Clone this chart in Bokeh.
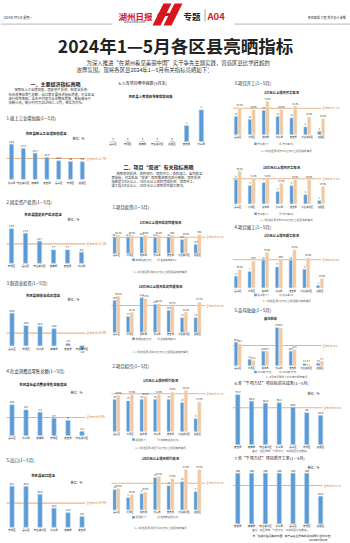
from bokeh.plotting import figure
from bokeh.layouts import column, row
from bokeh.models import Range1d, ColumnDataSource
from bokeh.transform import dodge
from bokeh.core.properties import value
from bokeh.embed import file_html
from bokeh.resources import INLINE

FONT = "Noto Sans CJK SC"
BLUE = "#5b9bd5"
BLUE_EDGE = "#a7c9ea"
TAN = "#f0c9a3"
AVG = "#e9b48a"
AVG_TXT = "#d27a36"
INK = "#222222"
GREY = "#555555"
RED = "#d7191f"

# ---------------- data ----------------
# 一、主要经济指标
ind_cats = ["长兴县", "南太湖新区", "德清县", "安吉县", "吴兴区", "南浔区", "度假区"]
ind_vals = [19.8, 17.3, 14.7, 12.3, 10.4, 10.0, 9.8]
ind_avg = 11.7

fai_cats = ["南浔区", "吴兴区", "南太湖新区", "德清县", "安吉县", "长兴县"]
fai_vals = [19.9, 17.3, 12.7, 7.7, 7.7, 6.4]
fai_avg = 11.2

mfg_cats = ["吴兴区", "南浔区", "长兴县", "德清县", "安吉县", "南太湖新区"]
mfg_vals = [25.8, 15.9, 15.3, 13.5, 1.6, -2.8]
mfg_avg = 10.0

retail_cats = ["吴兴区", "长兴县", "德清县", "南浔区", "安吉县", "南太湖新区"]
retail_vals = [10.2, 8.5, 7.7, 5.7, 5.0, 1.3]
retail_avg = 6.0

exp_cats = ["南浔区", "吴兴区", "南太湖新区", "长兴县", "德清县", "安吉县"]
exp_vals = [33.1, 32.8, 26.4, 15.3, 11.6, 8.6]
exp_avg = 19.4

zero_cats = ["吴兴区", "南浔区", "德清县", "南太湖新区", "度假区", "安吉县", "长兴县"]
zero_vals = [0, 0, 0, 0, 0, 1, 2]

# 二、项目"双进"
proj_cats = ["吴兴区", "南浔区", "德清县", "长兴县", "安吉县", "南太湖新区", "度假区"]

inv1_amt = [32.1, 31.8, 32.4, 31.6, 32.0, 26.9, 17.3]
inv1_rate = [50.1, 50.3, 49.8, 50.2, 50.0, 45.6, 53.0]
inv1_avg = 45.3

inv10_amt = [15.9, 7.8, 17.2, 13.8, 10.9, 7.2, 7.2]
inv10_rate = [80.6, 45.1, 75.4, 64.1, 58.7, 45.1, 67.7]
inv10_avg = 60.3

att1_num = [20, 19, 20, 20, 20, 18, 8]
att1_rate = [70.3, 72.3, 68.4, 72.3, 76.8, 80.1, 57.3]
att1_avg = 73.7

att10_num = [10, 6, 8, 16, 12, 14, 9]
att10_rate = [45.9, 33.5, 38.5, 72.9, 67.8, 87.5, 87.5]
att10_avg = 58.2

st1_num = [12, 10, 16, 12, 11, 5, 2]
st1_rate = [57.1, 53.6, 71.6, 53.6, 61.4, 37.6, 34.1]
st1_avg = 57.1

st10_num = [8, 6, 7, 4, 6, 3, 1]
st10_rate = [93.1, 71.4, 71.4, 57.1, 68.6, 69.4, 49.4]
st10_avg = 71.4

done_num = [5, 7, 12, 9, 12, 8, 1]
done_rate = [38.5, 57.0, 76.2, 60.0, 81.4, 63.4, 19.3]
done_avg = 60.0

tax_2024 = [46.5, 12.0, 28.6, 75.3, 28.5, 3.4, 4.6]
tax_2023 = [43.4, 10.1, 28.7, 75.1, 31.4, 3.3, 8.7]
tax_avg = 40.0

qx_cats = ["安吉县", "德清县", "南太湖新区", "长兴县", "吴兴区", "南浔区", "度假区"]
qx_inv_rate = [75.3, 65.6, 62.6, 63.2, 56.5, 48.0, 43.9]
qx_inv_avg = 55.6
qx_new_rate = [100, 100, 100, 100, 100, 100, 54.5]
qx_new_avg = 75.7


# ---------------- helpers ----------------
def block(L, W, T, H, cx0=None, dx=1.0, B=None, s=1.0, s2=None):
    if cx0 is None:
        cx0 = L
    if B is None:
        B = T + H
    p = figure(width=W, height=H,
               x_range=Range1d((L - cx0) / dx, (L + W - cx0) / dx),
               y_range=Range1d((B - (T + H)) / s, (B - T) / s),
               output_backend="svg", toolbar_location=None,
               x_axis_location=None, y_axis_location=None, min_border=0)
    p.grid.visible = False
    p.outline_line_color = None
    p.background_fill_color = "white"
    p.border_fill_color = "white"
    if s2 is not None:
        p.extra_y_ranges = {"pct": Range1d((B - (T + H)) / s2, (B - T) / s2)}

    def X(px):
        return (px - cx0) / dx

    def Y(py):
        return (B - py) / s
    return p, X, Y


def txt(p, x, y, s, size, color=INK, bold=False, align="left", baseline="middle"):
    p.text(x=[x], y=[y], text=[s], text_font=value(FONT), text_font_size=f"{size}px",
           text_color=color, text_font_style="bold" if bold else "normal",
           text_align=align, text_baseline=baseline)


def fmt(v):
    return f"{v:g}"


def single(p, X, Y, s, dx, cats, vals, avg, avg_text, bar_px, cat_py, lx0, lx1, lab_size=2.8):
    n = len(cats)
    idx = list(range(n))
    if avg is not None:
        p.segment(x0=[X(lx0)], y0=[avg], x1=[X(lx1)], y1=[avg], line_color=AVG, line_width=1.1)
        txt(p, X(lx1 + 1), avg, avg_text, lab_size, color=AVG_TXT)
    p.vbar(x=idx, top=vals, bottom=0, width=bar_px / dx, fill_color=BLUE,
           line_color=BLUE_EDGE, line_width=0.6)
    lab_y = [v + 2.6 / s if v >= 0 else v - 2.8 / s for v in vals]
    p.text(x=idx, y=lab_y, text=[fmt(v) for v in vals], text_font=value(FONT),
           text_font_size="2.6px", text_color=INK, text_align="center", text_baseline="middle")
    p.text(x=idx, y=[Y(cat_py)] * n, text=cats, text_font=value(FONT),
           text_font_size="2.5px", text_color=INK, text_align="center", text_baseline="middle")


def paired(p, X, Y, s, s2, dx, cats, blue, tan, avg, avg_text, bar_px, cat_py, lx0, lx1,
           legend_py, leg_x, leg_b, leg_t, tan_suffix="%", lab_size=2.4):
    n = len(cats)
    idx = list(range(n))
    off = (bar_px / 2 + 0.25) / dx
    src = ColumnDataSource(dict(x=idx, blue=blue, tan=tan,
                                by=[v + 2.2 / s for v in blue],
                                ty=[v + 2.2 / s2 for v in tan],
                                bl=[fmt(v) for v in blue],
                                tl=[fmt(v) + tan_suffix for v in tan]))
    p.segment(x0=[X(lx0)], y0=[avg], x1=[X(lx1)], y1=[avg], line_color=AVG,
              line_width=1.1, y_range_name="pct")
    p.text(x=[X(lx1 + 1)], y=[avg], text=[avg_text], text_font=value(FONT),
           text_font_size=f"{lab_size}px", text_color=AVG_TXT, text_baseline="middle",
           y_range_name="pct")
    p.vbar(x=dodge("x", -off), top="blue", bottom=0, width=bar_px / dx, source=src,
           fill_color=BLUE, line_color=BLUE_EDGE, line_width=0.5)
    p.vbar(x=dodge("x", off), top="tan", bottom=0, width=bar_px / dx, source=src,
           fill_color=TAN, line_color="#f6dcc2", line_width=0.5, y_range_name="pct")
    p.text(x=dodge("x", -off), y="by", text="bl", source=src, text_font=value(FONT),
           text_font_size="2.1px", text_color=INK, text_align="center", text_baseline="middle")
    p.text(x=dodge("x", off), y="ty", text="tl", source=src, text_font=value(FONT),
           text_font_size="2.1px", text_color=INK, text_align="center", text_baseline="middle",
           y_range_name="pct")
    p.text(x=idx, y=[Y(cat_py)] * n, text=cats, text_font=value(FONT),
           text_font_size="2.3px", text_color=INK, text_align="center", text_baseline="middle")
    # legend
    p.scatter(x=[X(leg_x)], y=[Y(legend_py)], marker="square", size=2.6, fill_color=BLUE, line_color=None)
    txt(p, X(leg_x + 2), Y(legend_py), leg_b, 2.4, color=GREY)
    p.scatter(x=[X(leg_x + 25)], y=[Y(legend_py)], marker="square", size=2.6, fill_color=TAN, line_color=None)
    txt(p, X(leg_x + 27), Y(legend_py), leg_t, 2.4, color=GREY)


# ---------------- header ----------------
hd = figure(width=350, height=76, x_range=Range1d(0, 350), y_range=Range1d(76, 0),
            output_backend="svg", toolbar_location=None,
            x_axis_location=None, y_axis_location=None, min_border=0)
hd.grid.visible = False
hd.outline_line_color = None
hd.segment(x0=[0], y0=[23.6], x1=[350], y1=[23.6], line_color="#888888", line_width=0.6)
txt(hd, 3, 17.5, "2024年7月1日  星期一", 3.0, color="#333333")
txt(hd, 346, 17.5, "责任编辑 马程  美术设计 朱维", 3.0, color="#333333", align="right")
hd.quad(left=[112], right=[234], top=[1], bottom=[26], fill_color="white", line_color=None)
txt(hd, 135, 15.5, "湖州日报", 8.5, color=RED, bold=True, align="center")
txt(hd, 134, 21.8, "www.hz66.com", 3.0, color="#444444", align="center")
hd.patches(xs=[[163, 171, 160, 152], [174, 182, 171, 163]],
           ys=[[3, 3, 25, 25], [3, 3, 25, 25]], fill_color=RED, line_color=None)
hd.patches(xs=[[158, 176, 174.5, 156.5]], ys=[[12.5, 12.5, 15.5, 15.5]], fill_color=RED, line_color=None)
txt(hd, 183, 15.0, "专题", 8.5, color=INK, bold=True)
hd.segment(x0=[204.5], y0=[9], x1=[204.5], y1=[21], line_color="#888888", line_width=0.8)
txt(hd, 207, 15.0, "A04", 9.5, color=RED, bold=True)
txt(hd, 175, 44.5, "2024年1—5月各区县亮晒指标", 17.5, color=INK, bold=True, align="center")
txt(hd, 86, 62.5, "为深入推进“在湖州看见美丽中国”实干争先主题实践，营造区县比学赶超的", 5.4, color="#333333")
txt(hd, 76, 69.3, "浓厚氛围，现将各区县2024年1—5月有关指标亮晒如下：", 5.4, color="#333333")

# ---------------- column 1 ----------------
c1L, c1W = 0, 108
pa, Xa, Ya = block(c1L, c1W, 76, 34)
txt(pa, Xa(55), Ya(83.3), "一、主要经济指标亮晒", 5.0, bold=True, align="center")
para1 = ["按照规上工业增加值、固定资产投资、制造业投资、",
         "社会消费品零售总额、出口等主要经济指标增速，对各区县",
         "进行排序亮晒，全市平均值为全市整体增速，数据来源于",
         "市统计局，统计时间为2024年1—5月，单位均为%。"]
for i, line in enumerate(para1):
    txt(pa, Xa(14 if i == 0 else 8), Ya(89.3 + i * 4.3), line, 3.3, color="#333333")

pb, Xb, Yb = block(c1L, c1W, 110, 82, cx0=11, dx=11.8, B=178.7, s=1.768)
txt(pb, Xb(6), Yb(117.5), "1.规上工业增加值(1—5月)", 4.3)
txt(pb, Xb(45.5), Yb(132.7), "各区县规上工业增加值增速", 3.4, bold=True, align="center")
txt(pb, Xb(72), Yb(138.7), "单位：%", 3.0)
single(pb, Xb, Yb, 1.768, 11.8, ind_cats, ind_vals, ind_avg, "全市平均 11.7%", 4.0, 182, 6, 85)

pc, Xc, Yc = block(c1L, c1W, 192, 85, cx0=11, dx=14, B=262.7, s=1.729)
txt(pc, Xc(6), Yc(201.7), "2.固定资产投资(1—5月)", 4.3)
txt(pc, Xc(42.5), Yc(214), "各区县固定资产投资增速", 3.4, bold=True, align="center")
txt(pc, Xc(67), Yc(219.3), "单位：%", 3.0)
single(pc, Xc, Yc, 1.729, 14, fai_cats, fai_vals, fai_avg, "全市平均 11.2%", 4.3, 265.5, 6, 85)

pd_, Xd, Yd = block(c1L, c1W, 277, 86, cx0=11.5, dx=14, B=345.3, s=1.264)
txt(pd_, Xd(6), Yd(282.7), "3.制造业投资(1—5月)", 4.3)
txt(pd_, Xd(42.5), Yd(295), "各区县制造业投资增速", 3.4, bold=True, align="center")
txt(pd_, Xd(67), Yd(299.3), "单位：%", 3.0)
single(pd_, Xd, Yd, 1.264, 14, mfg_cats, mfg_vals, mfg_avg, "全市平均 10.0%", 4.3, 348, 6, 85)

pe, Xe, Ye = block(c1L, c1W, 363, 89, cx0=11.5, dx=14, B=435, s=3.01)
txt(pe, Xe(6), Ye(370.7), "4.社会消费品零售总额(1—5月)", 4.3)
txt(pe, Xe(42.5), Ye(384), "各区县社会消费品零售总额增速", 3.4, bold=True, align="center")
txt(pe, Xe(70), Ye(392), "单位：%", 3.0)
single(pe, Xe, Ye, 3.01, 14, retail_cats, retail_vals, retail_avg, "全市平均 6.0%", 4.3, 437.5, 6, 85)

pf, Xf, Yf = block(c1L, c1W, 452, 91, cx0=11.5, dx=14, B=526.7, s=1.239)
txt(pf, Xf(6), Yf(459.3), "5.出口(1—5月)", 4.3)
txt(pf, Xf(42.5), Yf(475), "各区县出口增速", 3.4, bold=True, align="center")
txt(pf, Xf(70), Yf(482), "单位：%", 3.0)
single(pf, Xf, Yf, 1.239, 14, exp_cats, exp_vals, exp_avg, "全市平均 19.4%", 4.3, 529.5, 6, 85)

col1 = column(pa, pb, pc, pd_, pe, pf, spacing=0)

# ---------------- column 2 ----------------
c2L, c2W = 108, 124
pg, Xg, Yg = block(c2L, c2W, 76, 80, cx0=112.6, dx=14.7, B=141, s=15.8)
txt(pg, Xg(118), Yg(82.7), "6.入库项目零申报数(5月末)", 4.0)
txt(pg, Xg(150), Yg(96), "各区县入库项目零申报项目数", 3.4, bold=True, align="center")
single(pg, Xg, Yg, 15.8, 14.7, zero_cats, zero_vals, None, "", 4.3, 143.5, 0, 0)

ph, Xh, Yh = block(c2L, c2W, 156, 44)
txt(ph, Xh(158), Yh(165.7), "二、项目“双进”有关指标亮晒", 5.0, bold=True, align="center")
para2 = ["按照项目投资、项目招引、项目开工、项目竣工、亩均效益",
         "等指标，对各区县“双进”项目推进情况进行亮晒。项目投资",
         "指新建1亿元以上、10亿元以上项目完成投资；项目开工、",
         "竣工指1亿元以上、10亿元以上项目的开竣工情况。"]
for i, line in enumerate(para2):
    txt(ph, Xh(116 if i == 0 else 111), Yh(173.3 + i * 4.0), line, 3.3, color="#333333")

CX2, DX2 = 116, 13.5
pi, Xi, Yi = block(c2L, c2W, 200, 80, cx0=CX2, dx=DX2, B=252.7, s=0.5, s2=16 / 45.3)
txt(pi, Xi(112), Yi(206), "1.项目投资(1—5月)", 4.3)
txt(pi, Xi(160), Yi(222), "1亿元以上项目投资完成情况", 3.3, bold=True, align="center")
paired(pi, Xi, Yi, 0.5, 16 / 45.3, DX2, proj_cats, inv1_amt, inv1_rate, inv1_avg, "全市平均 45.3%",
       3.2, 254.5, 111, 205, 259.3, 133, "完成投资(亿元)", "投资完成率(%)")
txt(pi, Xi(160), Yi(271.7), "1—5月各区县新建1亿元以上项目投资完成情况", 2.6, color=GREY, align="center")

pj, Xj, Yj = block(c2L, c2W, 280, 77, cx0=CX2, dx=DX2, B=331.7, s=2.0, s2=0.443)
txt(pj, Xj(160), Yj(285.5), "10亿元以上项目投资完成情况", 3.3, bold=True, align="center")
paired(pj, Xj, Yj, 2.0, 0.443, DX2, proj_cats, inv10_amt, inv10_rate, inv10_avg, "全市平均 60.3%",
       3.2, 333.5, 111, 205, 338.3, 133, "完成投资(亿元)", "投资完成率(%)")
txt(pj, Xj(160), Yj(351), "1—5月各区县新建10亿元以上项目投资完成情况", 2.6, color=GREY, align="center")

pk, Xk, Yk = block(c2L, c2W, 357, 95, cx0=CX2, dx=DX2, B=431, s=1.6, s2=0.512)
txt(pk, Xk(112), Yk(365.7), "2.项目招引(1—5月)", 4.3)
txt(pk, Xk(160), Yk(380), "1亿元以上项目招引情况", 3.3, bold=True, align="center")
paired(pk, Xk, Yk, 1.6, 0.512, DX2, proj_cats, att1_num, att1_rate, att1_avg, "全市平均 73.7%",
       3.2, 432.8, 111, 205, 439, 133, "项目数(个)", "完成年度目标(%)")
txt(pk, Xk(160), Yk(447.3), "1—5月各区县新招引1亿元以上项目完成情况", 2.6, color=GREY, align="center")

pl, Xl, Yl = block(c2L, c2W, 452, 91, cx0=CX2, dx=DX2, B=509.3, s=2.0, s2=0.457)
txt(pl, Xl(160), Yl(458.3), "10亿元以上项目招引情况", 3.3, bold=True, align="center")
paired(pl, Xl, Yl, 2.0, 0.457, DX2, proj_cats, att10_num, att10_rate, att10_avg, "全市平均 58.2%",
       3.2, 511.2, 111, 205, 516.7, 133, "项目数(个)", "完成年度目标(%)")
txt(pl, Xl(160), Yl(527.3), "1—5月各区县新招引10亿元以上项目完成情况", 2.6, color=GREY, align="center")

col2 = column(pg, ph, pi, pj, pk, pl, spacing=0)

# ---------------- column 3 ----------------
c3L, c3W = 232, 118
CX3 = 237.3
pm, Xm, Ym = block(c3L, c3W, 76, 80, cx0=CX3, dx=13.9, B=134, s=1.5, s2=0.4606)
txt(pm, Xm(234), Ym(82.7), "3.项目开工(1—5月)", 4.3)
txt(pm, Xm(281), Ym(91.7), "1亿元以上项目开工情况", 3.3, bold=True, align="center")
paired(pm, Xm, Ym, 1.5, 0.4606, 13.9, proj_cats, st1_num, st1_rate, st1_avg, "全市平均 57.1%",
       3.2, 136.5, 232, 321, 143.3, 255, "开工数(个)", "开工率(%)")
txt(pm, Xm(286), Ym(150.7), "1—5月各区县新开工1亿元以上项目完成情况", 2.6, color=GREY, align="center")

pn, Xn, Yn = block(c3L, c3W, 156, 66, cx0=CX3, dx=13.9, B=203.3, s=3.0, s2=0.35)
txt(pn, Xn(281), Yn(166.7), "10亿元以上项目开工情况", 3.3, bold=True, align="center")
paired(pn, Xn, Yn, 3.0, 0.35, 13.9, proj_cats, st10_num, st10_rate, st10_avg, "全市平均 71.4%",
       3.2, 205.8, 232, 321, 213.3, 255, "开工数(个)", "开工率(%)")
txt(pn, Xn(286), Yn(219.3), "1—5月各区县新开工10亿元以上项目完成情况", 2.6, color=GREY, align="center")

po, Xo, Yo = block(c3L, c3W, 222, 82, cx0=CX3, dx=13.7, B=287.3, s=2.3, s2=0.467)
txt(po, Xo(234), Yo(226.5), "4.项目竣工(1—5月)", 4.3)
txt(po, Xo(281), Yo(234.5), "1亿元以上项目竣工情况", 3.3, bold=True, align="center")
paired(po, Xo, Yo, 2.3, 0.467, 13.7, proj_cats, done_num, done_rate, done_avg, "全市平均 60.0%",
       3.2, 289.8, 232, 321, 294.5, 255, "竣工数(个)", "竣工率(%)")
txt(po, Xo(286), Yo(300.5), "1—5月各区县1亿元以上项目竣工完成情况", 2.6, color=GREY, align="center")

pp, Xp, Yp = block(c3L, c3W, 304, 74, cx0=CX3, dx=13.7, B=365, s=0.5, s2=0.5)
txt(pp, Xp(234), Yp(309.3), "5.亩均效益(1—5月)", 4.3)
txt(pp, Xp(270), Yp(317.7), "亩均税收", 3.3, bold=True, align="center")
paired(pp, Xp, Yp, 0.5, 0.5, 13.7, proj_cats, tax_2024, tax_2023, tax_avg, "全市平均 40.0",
       3.2, 367.3, 232, 321, 371.5, 255, "2024年(万元)", "2023年(万元)", tan_suffix="")
txt(pp, Xp(286), Yp(376), "1—5月各区县规上工业亩均税收情况", 2.6, color=GREY, align="center")

pq, Xq, Yq = block(c3L, c3W, 378, 76, cx0=CX3, dx=13.8, B=444, s=0.66)
txt(pq, Xq(234), Yq(382.2), "6.省“千项万亿”项目投资完成率(1—5月)", 4.0)
txt(pq, Xq(307), Yq(393.3), "单位：%", 3.0)
single(pq, Xq, Yq, 0.66, 13.8, qx_cats, qx_inv_rate, qx_inv_avg, "全市平均 55.6%", 4.3, 446.5, 232, 322,
       lab_size=2.5)
txt(pq, Xq(280), Yq(450.8), "备注：各区县按“千项万亿”工程项目计划推进。", 2.6, color=GREY, align="center")

pr, Xr, Yr = block(c3L, c3W, 454, 89, cx0=CX3, dx=13.8, B=523.3, s=0.506)
txt(pr, Xr(234), Yr(457.8), "7.省“千项万亿”项目新开工率(1—5月)", 4.0)
txt(pr, Xr(307), Yr(467.3), "单位：%", 3.0)
single(pr, Xr, Yr, 0.506, 13.8, qx_cats, qx_new_rate, qx_new_avg, "全市平均 75.7%", 4.3, 525.5, 232, 322,
       lab_size=2.5)
txt(pr, Xr(280), Yr(529.8), "备注：各区县按“千项万亿”工程项目计划推进。", 2.6, color=GREY, align="center")
txt(pr, Xr(291), Yr(535.3), "市“在湖州看见美丽中国”实干争先主题实践活动领导小组办公室", 2.7, color=INK, align="center")
txt(pr, Xr(327), Yr(539.3), "2024年6月28日", 2.7, color=INK, align="right")

col3 = column(pm, pn, po, pp, pq, pr, spacing=0)

page = column(hd, row(col1, col2, col3, spacing=0), spacing=0)

with open("out.html", "w") as f:
    f.write(file_html(page, INLINE, title="2024年1—5月各区县亮晒指标"))
